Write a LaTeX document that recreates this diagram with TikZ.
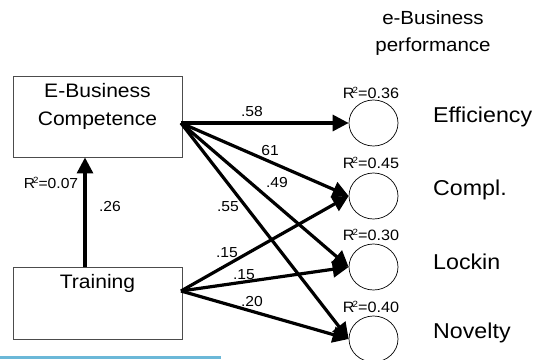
\documentclass[tikz,border=0pt]{standalone}
\usepackage{fontspec}
\setmainfont{Liberation Sans}[FakeStretch=1.08]
\usetikzlibrary{arrows.meta,shapes.geometric}
\definecolor{bluebar}{RGB}{107,184,216}
\newcommand{\rsqtxt}[1]{R\kern-2pt\raisebox{4.5pt}{\fontsize{9}{9}\selectfont 2}=#1}
\begin{document}
\begin{tikzpicture}[x=1pt,y=-1pt,
  boxnode/.style={draw=black!70,line width=0.9pt,minimum width=169pt,inner sep=0},
  latent/.style={draw,ellipse,line width=0.7pt,minimum width=49pt,minimum height=46pt,inner sep=0},
  bigtxt/.style={font=\fontsize{19.5}{28}\selectfont,inner sep=0,align=center},
  lbltxt/.style={font=\fontsize{21.5}{24}\selectfont,inner sep=0,anchor=west},
  coef/.style={font=\fontsize{14.5}{16}\selectfont,inner sep=0},
  rsq/.style={font=\fontsize{15}{16}\selectfont,inner sep=0},
  arr/.style={line width=3.2pt,-{Triangle[length=16pt,width=16pt]}},
]
\useasboundingbox (0,0) rectangle (535,359);
% boxes
\node[boxnode,minimum height=81pt] (e) at (97.5,116.5) {};
\node[boxnode,minimum height=72pt] (t) at (97.5,303) {};
\node[bigtxt] (etxt) at (97.5,106) {E-Business\\Competence};
\node[bigtxt] (ttxt) at (97.5,283) {Training};
% blue bar
\coordinate (b0) at (0,357.5);
\coordinate (b1) at (221,357.5);
\draw[bluebar,line width=3pt] (b0) -- (b1);
% latent circles
\node[latent] (c1) at (373.5,123) {};
\node[latent] (c2) at (373.5,196) {};
\node[latent] (c3) at (373.5,267) {};
\node[latent] (c4) at (373.5,339) {};
% header and labels
\node[bigtxt,font=\fontsize{19}{27}\selectfont] (hdr) at (433,33.5) {e-Business\\performance};
\node[lbltxt] (l1) at (433,117) {Efficiency};
\node[lbltxt] (l2) at (433,190) {Compl.};
\node[lbltxt] (l3) at (433,262) {Lockin};
\node[lbltxt] (l4) at (433,333) {Novelty};
\node[rsq] (r1) at (371,93) {\rsqtxt{0.36}};
\node[rsq] (r2) at (371,163) {\rsqtxt{0.45}};
\node[rsq] (r3) at (371,235) {\rsqtxt{0.30}};
\node[rsq] (r4) at (371,307) {\rsqtxt{0.40}};
\node[rsq,font=\fontsize{14.5}{16}\selectfont] (r0) at (51,183) {\rsqtxt{0.07}};
% coefficients
\node[coef] (k58) at (252,112) {.58};
\node[coef] (k61) at (270,151) {61};
\node[coef] (k49) at (277,183) {.49};
\node[coef] (k55) at (228,207) {.55};
\node[coef] (k15a) at (227,253) {.15};
\node[coef] (k15b) at (244,275) {.15};
\node[coef] (k20) at (252,302) {.20};
\node[coef] (k26) at (110,207) {.26};
% connectors
\coordinate (s1) at (181,123);
\coordinate (s2) at (181,291);
\coordinate (vx) at (85,0);
\draw[arr] (t.north -| vx) -- (e.south -| vx);
\draw[arr] (s1) -- (c1.west);
\draw[arr] (s1) -- (c2.west);
\draw[arr] (s1) -- (c3.west);
\draw[arr] (s1) -- (c4.west);
\draw[arr] (s2) -- (c2.west);
\draw[arr] (s2) -- (c3.west);
\draw[arr] (s2) -- (c4.west);
\end{tikzpicture}
\end{document}
